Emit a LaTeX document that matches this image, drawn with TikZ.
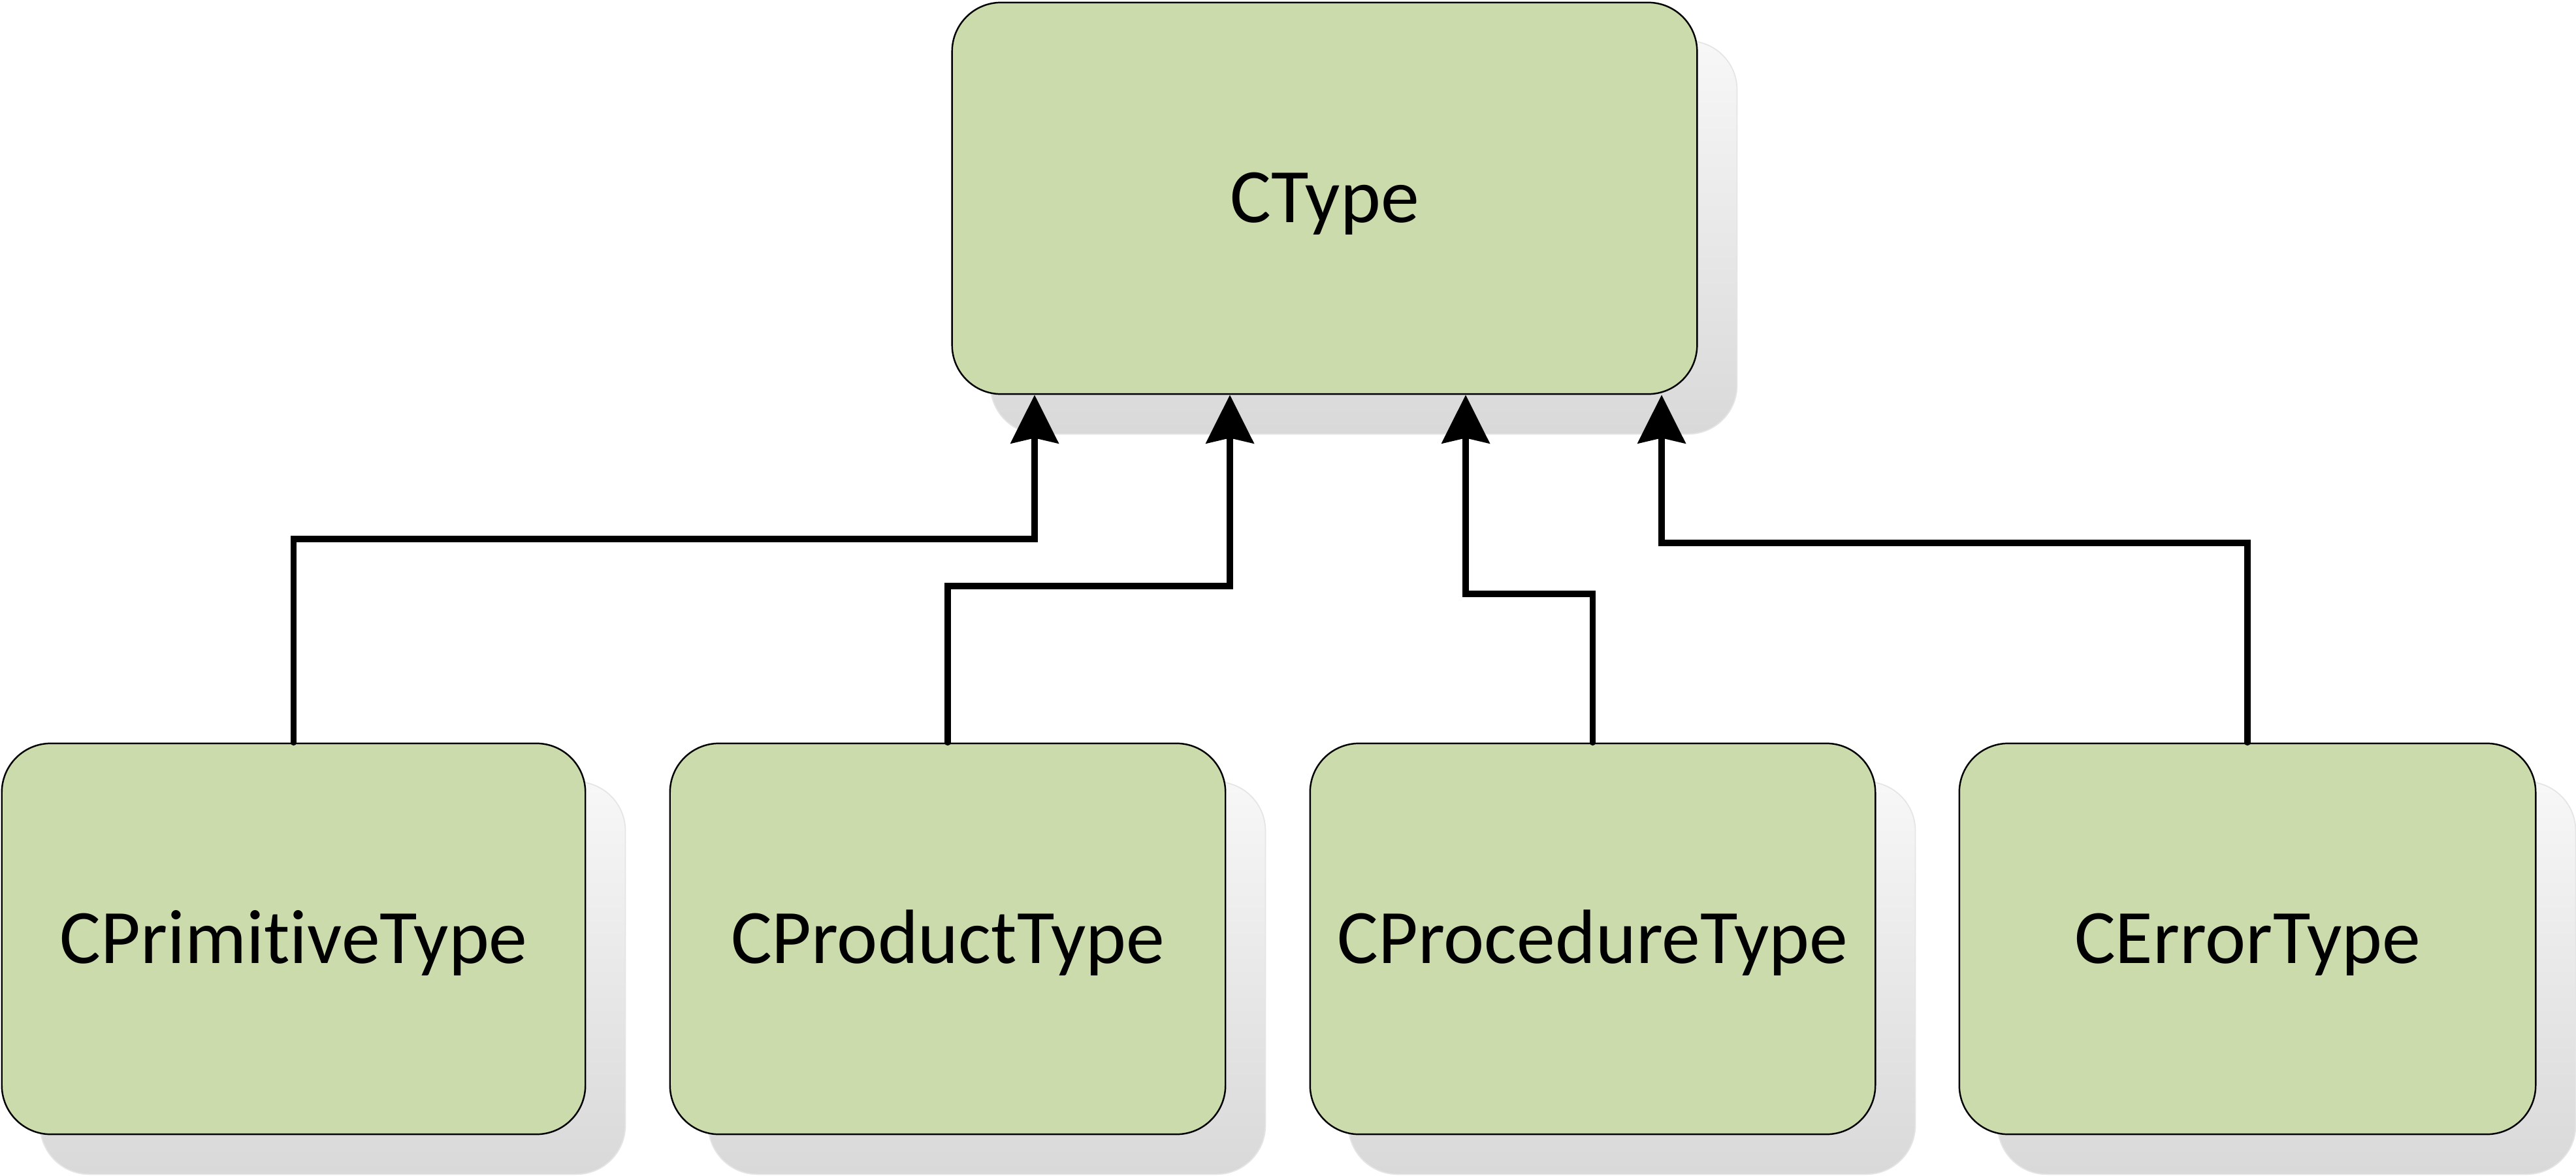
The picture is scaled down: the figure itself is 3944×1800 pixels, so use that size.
\documentclass[tikz,border=0pt]{standalone}
\usepackage{fontspec}
\setmainfont{Carlito}[Ligatures=NoCommon]
\usepackage{tikz}
\usepackage{xcolor}
\usetikzlibrary{arrows.meta,backgrounds}
\definecolor{typegreen}{RGB}{203,219,171}

\begin{document}
\begin{tikzpicture}[x=0.01cm,y=-0.01cm,
  typebox/.style={draw=black,line width=0.7pt,fill=typegreen,rounded corners=0.75cm,inner sep=0pt,
    text height=21.3pt,text depth=0pt,font=\fontsize{33.5}{40}\selectfont},
  boxshadow/.style={draw=black!10,line width=0.5pt,rounded corners=0.75cm,top color=black!3,bottom color=black!15},
  inh/.style={line width=2.6pt,line cap=round,-{Stealth[length=0.74cm,width=0.73cm,inset=0.08cm]}}]
\useasboundingbox (0,0) rectangle (3944,1800);
%\Text{classes}
\node[typebox,minimum width=11.4cm,minimum height=5.99cm] (ctype) at (2028,303.5) {CType};
\node[typebox,minimum width=8.93cm,minimum height=5.98cm] (prim) at (449.5,1437) {CPrimitiveType};
\node[typebox,minimum width=8.5cm,minimum height=5.98cm] (prod) at (1451,1437) {CProductType};
\node[typebox,minimum width=8.65cm,minimum height=5.98cm] (proc) at (2438.5,1437) {CProcedureType};
\node[typebox,minimum width=8.82cm,minimum height=5.98cm] (err) at (3441,1437) {CErrorType};
\begin{scope}[on background layer]
\foreach \n in {ctype,prim,prod,proc,err}
  \path[boxshadow] ([shift={(60,60)}]\n.north west) rectangle ([shift={(60,60)}]\n.south east);
\end{scope}
\coordinate (in1) at (ctype.south -| 1584,0);
\coordinate (in2) at (ctype.south -| 1883,0);
\coordinate (in3) at (ctype.south -| 2244,0);
\coordinate (in4) at (ctype.south -| 2544,0);
\draw[inh] (prim.north) -- (prim.north |- 0,825) -| (in1);
\draw[inh] (prod.north) -- (prod.north |- 0,897) -| (in2);
\draw[inh] (proc.north) -- (proc.north |- 0,909) -| (in3);
\draw[inh] (err.north) -- (err.north |- 0,831) -| (in4);
\end{tikzpicture}
\end{document}
